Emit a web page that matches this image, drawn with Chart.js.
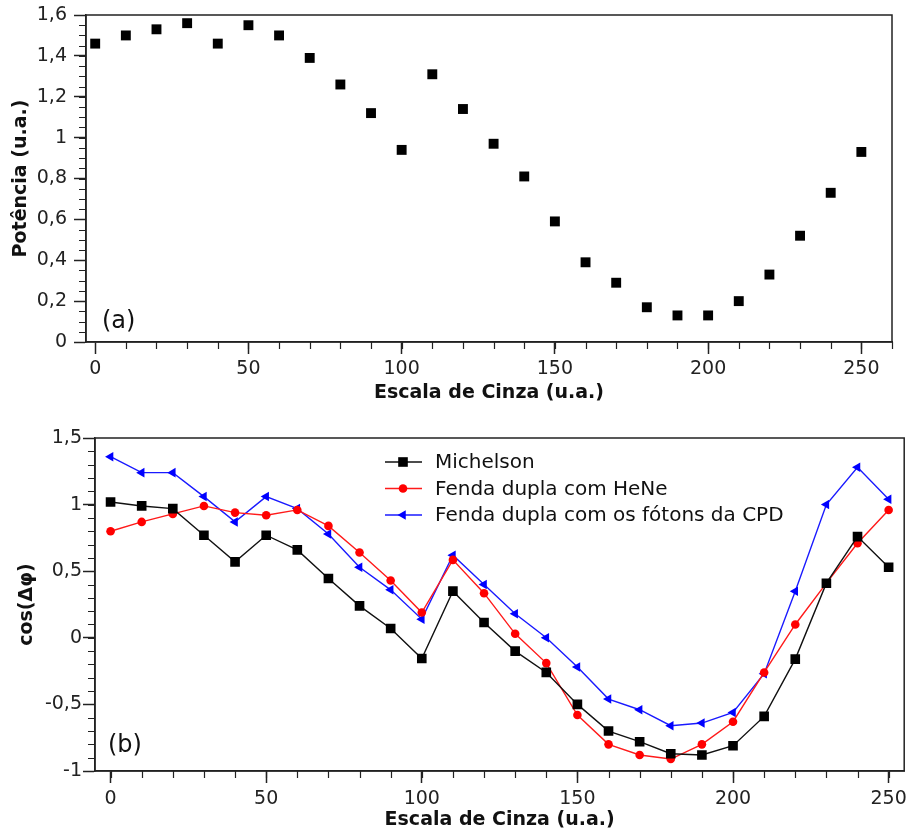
<!DOCTYPE html>
<html>
<head>
<meta charset="utf-8">
<script src="https://cdn.jsdelivr.net/npm/chart.js@4.4.1/dist/chart.umd.min.js"></script>
<style>
  html, body { margin: 0; padding: 0; background: #fff; }
  canvas { display: block; }
</style>
</head>
<body>
<canvas id="chartA" width="911" height="410"></canvas>
<canvas id="chartB" width="911" height="424"></canvas>
<script>
// data ------------------------------------------------------
const grayLevels = [0, 10, 20, 30, 40, 50, 60, 70, 80, 90, 100, 110, 120, 130, 140, 150, 160, 170, 180, 190, 200, 210, 220, 230, 240, 250];

const potencia = [1.46, 1.50, 1.53, 1.56, 1.46, 1.55, 1.50, 1.39, 1.26, 1.12, 0.94, 1.31, 1.14, 0.97, 0.81, 0.59, 0.39, 0.29, 0.17, 0.13, 0.13, 0.20, 0.33, 0.52, 0.73, 0.93];

const michelson = [1.02, 0.99, 0.97, 0.77, 0.57, 0.77, 0.66, 0.445, 0.24, 0.07, -0.155, 0.35, 0.115, -0.10, -0.26, -0.50, -0.70, -0.78, -0.87, -0.88, -0.81, -0.59, -0.16, 0.41, 0.76, 0.53];
const heNe = [0.80, 0.87, 0.93, 0.99, 0.94, 0.92, 0.96, 0.84, 0.64, 0.43, 0.19, 0.585, 0.335, 0.03, -0.19, -0.58, -0.80, -0.88, -0.91, -0.80, -0.63, -0.26, 0.10, 0.41, 0.71, 0.96];
const cpd = [1.36, 1.24, 1.24, 1.06, 0.87, 1.06, 0.97, 0.78, 0.53, 0.36, 0.14, 0.62, 0.40, 0.18, 0.0, -0.22, -0.46, -0.54, -0.66, -0.64, -0.56, -0.27, 0.35, 1.00, 1.28, 1.04];

const seriesLabels = ['Michelson', 'Fenda dupla com HeNe', 'Fenda dupla com os fótons da CPD'];

const xTicks = [0, 50, 100, 150, 200, 250];
const yTicksA = [0, 0.2, 0.4, 0.6, 0.8, 1, 1.2, 1.4, 1.6];
const yTicksB = [-1, -0.5, 0, 0.5, 1, 1.5];

Chart.defaults.font.family = "'DejaVu Sans', sans-serif";
Chart.defaults.color = '#222';
Chart.defaults.animation = false;

const toPoints = (ys) => grayLevels.map((x, i) => ({ x: x, y: ys[i] }));
const commaLabel = (v) => String(Number(v.toFixed(2))).replace('.', ',');

// frame, minor ticks, panel letter and the line+marker legend
const framePlugin = {
  id: 'frame',
  afterDraw(chart, args, opts) {
    const { ctx, chartArea: a, scales: { x, y } } = chart;
    ctx.save();
    ctx.strokeStyle = '#222';
    ctx.lineWidth = 1.5;
    ctx.strokeRect(a.left, a.top, a.right - a.left, a.bottom - a.top);

    ctx.lineWidth = 1.2;
    ctx.beginPath();
    for (let i = 0; ; i++) {
      const v = opts.xFrom + i * opts.xStep;
      if (v > x.max + 1e-9) break;
      const px = Math.round(x.getPixelForValue(v)) + 0.5;
      ctx.moveTo(px, a.bottom);
      ctx.lineTo(px, a.bottom + 7);
    }
    for (let i = 0; ; i++) {
      const v = y.min + i * opts.yStep;
      if (v > y.max + 1e-9) break;
      const py = Math.round(y.getPixelForValue(v)) + 0.5;
      ctx.moveTo(a.left, py);
      ctx.lineTo(a.left - 7, py);
    }
    ctx.stroke();

    ctx.fillStyle = '#111';
    ctx.font = "24px 'DejaVu Sans', sans-serif";
    ctx.textAlign = 'left';
    ctx.textBaseline = 'alphabetic';
    ctx.fillText(opts.panel, a.left + opts.panelX, a.bottom - opts.panelY);

    if (opts.legend) {
      ctx.font = "20px 'DejaVu Sans', sans-serif";
      ctx.textBaseline = 'middle';
      chart.data.datasets.forEach((ds, i) => {
        const ly = a.top + 24 + i * 26.5;
        const lx = a.left + 290;
        ctx.strokeStyle = ds.borderColor;
        ctx.lineWidth = ds.borderWidth;
        ctx.beginPath();
        ctx.moveTo(lx, ly);
        ctx.lineTo(lx + 37, ly);
        ctx.stroke();
        ctx.fillStyle = ds.pointBackgroundColor;
        Chart.helpers.drawPoint(ctx, {
          pointStyle: ds.pointStyle,
          radius: ds.pointRadius,
          rotation: ds.pointRotation || 0,
          borderWidth: 0
        }, lx + 18, ly);
        ctx.fillStyle = '#111';
        ctx.fillText(ds.label, a.left + 340, ly + 1);
      });
    }
    ctx.restore();
  }
};

const axisBase = {
  type: 'linear',
  border: { color: '#222', width: 1.5 },
  grid: { drawOnChartArea: false, drawTicks: true, tickLength: 12, tickColor: '#222', tickWidth: 1.5 },
  title: { display: true, font: { size: 19, weight: 'bold' }, color: '#111' }
};

// x axis: fixed height, no extra edge padding from the end labels
const fitX = (h) => (s) => { s.height = h; s.paddingLeft = 0; s.paddingRight = 0; };
const fitY = (w) => (s) => { s.width = w; s.paddingTop = 0; s.paddingBottom = 0; };

// (a) Potencia -----------------------------------------------
new Chart(document.getElementById('chartA').getContext('2d'), {
  type: 'scatter',
  data: {
    datasets: [{
      label: 'Potência',
      data: toPoints(potencia),
      pointStyle: 'rect',
      pointRadius: 7,
      pointBackgroundColor: '#000',
      pointBorderWidth: 0,
      showLine: false
    }]
  },
  options: {
    responsive: false,
    layout: { padding: { top: 15, right: 19, left: 0, bottom: 0 } },
    plugins: {
      legend: { display: false },
      tooltip: { enabled: false },
      frame: { xFrom: 10, xStep: 10, yStep: 0.05, panel: '(a)', panelX: 16, panelY: 14 }
    },
    scales: {
      x: {
        ...axisBase,
        min: -3, max: 260,
        afterBuildTicks: (s) => { s.ticks = xTicks.map(v => ({ value: v })); },
        afterFit: fitX(68),
        ticks: { font: { size: 19 }, padding: 4, maxRotation: 0 },
        title: { ...axisBase.title, text: 'Escala de Cinza (u.a.)', padding: { top: 0, bottom: 6 } }
      },
      y: {
        ...axisBase,
        min: 0, max: 1.6,
        afterBuildTicks: (s) => { s.ticks = yTicksA.map(v => ({ value: v })); },
        afterFit: fitY(86),
        ticks: { font: { size: 19 }, padding: 7, callback: commaLabel },
        title: { ...axisBase.title, text: 'Potência (u.a.)', padding: { top: 10, bottom: 0 } }
      }
    }
  },
  plugins: [framePlugin]
});

// (b) cos(Δφ) ------------------------------------------------
new Chart(document.getElementById('chartB').getContext('2d'), {
  type: 'line',
  data: {
    datasets: [
      {
        label: seriesLabels[0],
        data: toPoints(michelson),
        borderColor: '#111',
        borderWidth: 1.4,
        pointStyle: 'rect',
        pointRadius: 6.8,
        pointBackgroundColor: '#000',
        pointBorderWidth: 0
      },
      {
        label: seriesLabels[1],
        data: toPoints(heNe),
        borderColor: '#ff1a1a',
        borderWidth: 1.4,
        pointStyle: 'circle',
        pointRadius: 4.3,
        pointBackgroundColor: '#ff0000',
        pointBorderWidth: 0
      },
      {
        label: seriesLabels[2],
        data: toPoints(cpd),
        borderColor: '#1a1aff',
        borderWidth: 1.4,
        pointStyle: 'triangle',
        pointRotation: -90,
        pointRadius: 5.5,
        pointBackgroundColor: '#0000ff',
        pointBorderWidth: 0
      }
    ]
  },
  options: {
    responsive: false,
    layout: { padding: { top: 28, right: 2, left: 0, bottom: 0 } },
    plugins: {
      legend: { display: false },
      tooltip: { enabled: false },
      frame: { xFrom: 0, xStep: 10, yStep: 0.1, panel: '(b)', panelX: 13, panelY: 19, legend: true }
    },
    scales: {
      x: {
        ...axisBase,
        min: -5, max: 255,
        afterBuildTicks: (s) => { s.ticks = xTicks.map(v => ({ value: v })); },
        afterFit: fitX(63),
        ticks: { font: { size: 19 }, padding: 5, maxRotation: 0 },
        title: { ...axisBase.title, text: 'Escala de Cinza (u.a.)', padding: { top: 0, bottom: 3 } }
      },
      y: {
        ...axisBase,
        min: -1, max: 1.5,
        afterBuildTicks: (s) => { s.ticks = yTicksB.map(v => ({ value: v })); },
        afterFit: fitY(95),
        ticks: { font: { size: 19 }, padding: 1, callback: commaLabel },
        title: { ...axisBase.title, text: 'cos(Δφ)', padding: { top: 16, bottom: 0 } }
      }
    }
  },
  plugins: [framePlugin]
});
</script>
</body>
</html>
